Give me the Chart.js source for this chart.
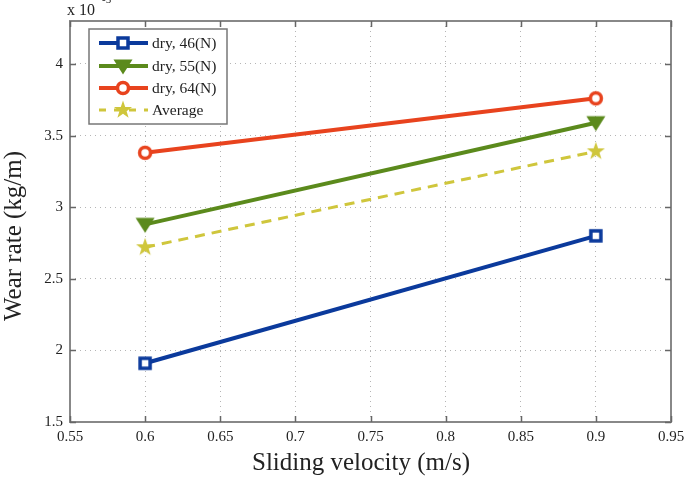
<!DOCTYPE html>
<html>
<head>
<meta charset="utf-8">
<script src="https://cdn.jsdelivr.net/npm/chart.js@4.4.0/dist/chart.umd.min.js"></script>
<style>
  html, body { margin: 0; padding: 0; background: #fff; }
  canvas { display: block; }
</style>
</head>
<body>
<canvas id="wearChart" width="685" height="478"></canvas>
<script>
// === Data ===
const velocity = [0.6, 0.9];
const dry46 = [1.91, 2.80];
const dry55 = [2.88, 3.59];
const dry64 = [3.38, 3.76];
const average = [2.72, 3.39];
const seriesNames = ["dry, 46(N)", "dry, 55(N)", "dry, 64(N)", "Average"];
const yTicks = [1.5, 2, 2.5, 3, 3.5, 4];
const xTicks = [0.55, 0.6, 0.65, 0.7, 0.75, 0.8, 0.85, 0.9, 0.95];
const xTitle = "Sliding velocity (m/s)";
const yTitle = "Wear rate (kg/m)";

const FONT = "'Liberation Serif', 'DejaVu Serif', serif";
const BLUE = "#0b3a9c";
const GREEN = "#5b8a1c";
const RED = "#e8431e";
const YELLOW = "#cfc63c";

// === Marker images ===
function makeMarker(kind, color) {
  const c = document.createElement("canvas");
  c.width = 24; c.height = 24;
  const g = c.getContext("2d");
  g.translate(12, 12);
  g.strokeStyle = color;
  g.fillStyle = color;
  if (kind === "square") {
    g.lineWidth = 3.5;
    g.fillStyle = "#fff";
    g.fillRect(-5, -5, 10, 10);
    g.strokeRect(-5, -5, 10, 10);
  } else if (kind === "tri") {
    g.beginPath();
    g.moveTo(-9.5, -6.5);
    g.lineTo(9.5, -6.5);
    g.lineTo(0, 8.5);
    g.closePath();
    g.fill();
  } else if (kind === "circle") {
    g.lineWidth = 3.5;
    g.fillStyle = "#fff";
    g.beginPath();
    g.arc(0, 0, 5.5, 0, Math.PI * 2);
    g.fill();
    g.stroke();
  } else if (kind === "star") {
    g.beginPath();
    for (let i = 0; i < 10; i++) {
      const r = i % 2 === 0 ? 9.5 : 3.8;
      const a = -Math.PI / 2 + i * Math.PI / 5;
      g.lineTo(r * Math.cos(a), r * Math.sin(a));
    }
    g.closePath();
    g.fill();
  }
  return c;
}

const markers = [
  makeMarker("square", BLUE),
  makeMarker("tri", GREEN),
  makeMarker("circle", RED),
  makeMarker("star", YELLOW)
];
const colors = [BLUE, GREEN, RED, YELLOW];
const values = [dry46, dry55, dry64, average];

function toPoints(arr) {
  return velocity.map((v, i) => ({ x: v, y: arr[i] }));
}

// === Frame, inward ticks, titles, legend, exponent ===
const framePlugin = {
  id: "frame",
  afterDraw(chart) {
    const ctx = chart.ctx;
    const a = chart.chartArea;
    const xs = chart.scales.x, ys = chart.scales.y;
    ctx.save();
    ctx.strokeStyle = "#888";
    ctx.lineWidth = 2;
    ctx.strokeRect(a.left, a.top, a.right - a.left, a.bottom - a.top);
    ctx.lineWidth = 1.5;
    ctx.strokeStyle = "#666";
    ctx.beginPath();
    xTicks.forEach(t => {
      const px = Math.round(xs.getPixelForValue(t)) + 0.5;
      ctx.moveTo(px, a.bottom); ctx.lineTo(px, a.bottom - 6);
      ctx.moveTo(px, a.top); ctx.lineTo(px, a.top + 6);
    });
    yTicks.forEach(t => {
      const py = Math.round(ys.getPixelForValue(t)) + 0.5;
      ctx.moveTo(a.left, py); ctx.lineTo(a.left + 6, py);
      ctx.moveTo(a.right, py); ctx.lineTo(a.right - 6, py);
    });
    ctx.stroke();

    // axis titles
    ctx.fillStyle = "#222";
    ctx.font = "25px " + FONT;
    ctx.textAlign = "center";
    ctx.textBaseline = "alphabetic";
    ctx.fillText(xTitle, 361, 470);
    ctx.save();
    ctx.translate(21, 236);
    ctx.rotate(-Math.PI / 2);
    ctx.fillText(yTitle, 0, 0);
    ctx.restore();

    // exponent label
    ctx.font = "16px " + FONT;
    ctx.textAlign = "left";
    ctx.fillText("x 10", 67, 15);
    ctx.font = "11px " + FONT;
    ctx.fillText("-5", 102, 3);

    // legend box
    const bx = 89, by = 29, bw = 138, bh = 95;
    ctx.fillStyle = "#fff";
    ctx.fillRect(bx, by, bw, bh);
    ctx.strokeStyle = "#777";
    ctx.lineWidth = 1.5;
    ctx.strokeRect(bx, by, bw, bh);
    const rows = [43, 66, 88, 110];
    rows.forEach((ry, i) => {
      ctx.strokeStyle = colors[i];
      ctx.lineWidth = i === 3 ? 3 : 4;
      ctx.setLineDash(i === 3 ? [7, 8] : []);
      ctx.beginPath();
      ctx.moveTo(99, ry);
      ctx.lineTo(148, ry);
      ctx.stroke();
      ctx.setLineDash([]);
      ctx.drawImage(markers[i], 123 - 12, ry - 12);
      ctx.fillStyle = "#222";
      ctx.font = "15.5px " + FONT;
      ctx.textBaseline = "middle";
      ctx.fillText(seriesNames[i], 152, ry + 1);
    });
    ctx.restore();
  }
};

new Chart(document.getElementById("wearChart"), {
  type: "line",
  data: {
    datasets: values.map((arr, i) => ({
      label: seriesNames[i],
      data: toPoints(arr),
      borderColor: colors[i],
      backgroundColor: colors[i],
      borderWidth: i === 3 ? 3 : 4,
      borderDash: i === 3 ? [10, 7] : [],
      pointStyle: markers[i],
      pointRadius: 10,
      tension: 0
    })).reverse()
  },
  options: {
    responsive: false,
    animation: false,
    layout: { padding: { left: 0, right: 0, top: 21, bottom: 0 } },
    plugins: { legend: { display: false }, tooltip: { enabled: false } },
    scales: {
      x: {
        type: "linear",
        min: 0.55,
        max: 0.95,
        afterBuildTicks: s => { s.ticks = xTicks.map(v => ({ value: v })); },
        afterFit: s => {
          s.height = 56;
          s.paddingLeft = 0;
          s.paddingRight = 14;
        },
        ticks: {
          padding: 6,
          color: "#222",
          font: { family: FONT, size: 15 },
          maxRotation: 0,
          autoSkip: false,
          callback: v => String(parseFloat(v.toFixed(2)))
        },
        grid: { color: "#b5b5b5", lineWidth: 1, drawTicks: false },
        border: { display: false, dash: [1, 4] }
      },
      y: {
        type: "linear",
        min: 1.5,
        max: 4.3,
        afterBuildTicks: s => { s.ticks = yTicks.map(v => ({ value: v })); },
        afterFit: s => { s.width = 70; },
        ticks: {
          padding: 7,
          color: "#222",
          font: { family: FONT, size: 15 },
          autoSkip: false,
          callback: v => String(parseFloat(v.toFixed(2)))
        },
        grid: { color: "#b5b5b5", lineWidth: 1, drawTicks: false },
        border: { display: false, dash: [1, 4] }
      }
    }
  },
  plugins: [framePlugin]
});
</script>
</body>
</html>
